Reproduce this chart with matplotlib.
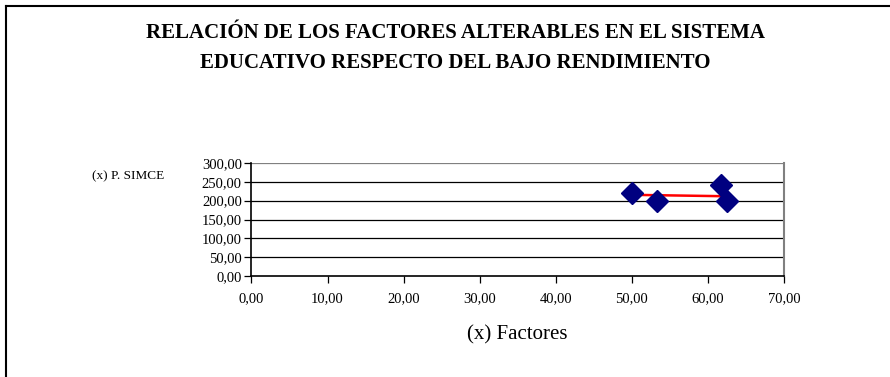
import matplotlib
matplotlib.use("Agg")
import matplotlib.pyplot as plt
from matplotlib.lines import Line2D

# Factor scores (x) against SIMCE score (y)
factores = [50.0, 53.3, 61.7, 62.5]
simce = [220.0, 198.0, 241.0, 200.0]

# Linear trend line endpoints
trend_x = [50.0, 62.5]
trend_y = [215.5, 211.7]

x_ticks = [0, 10, 20, 30, 40, 50, 60, 70]
y_ticks = [0, 50, 100, 150, 200, 250, 300]

title = "RELACIÓN DE LOS FACTORES ALTERABLES EN EL SISTEMA\nEDUCATIVO RESPECTO DEL BAJO RENDIMIENTO"

plt.rcParams["font.family"] = ["Liberation Serif", "DejaVu Serif"]

W, H = 890, 377
fig = plt.figure(figsize=(W / 100, H / 100), dpi=100)

# Chart frame (left and top edges)
fig.add_artist(Line2D([6 / W, 6 / W], [0, 1 - 6 / H], color="black", lw=1.5,
                      transform=fig.transFigure))
fig.add_artist(Line2D([6 / W, 1], [1 - 6 / H, 1 - 6 / H], color="black", lw=1.5,
                      transform=fig.transFigure))

ax = fig.add_axes([251.5 / W, 1 - 276 / H, (784 - 251.5) / W, (276 - 163) / H])

for yv in y_ticks[1:]:
    ax.axhline(yv, color="black" if yv < 300 else "#808080", lw=0.9, zorder=1)

ax.plot(trend_x, trend_y, color="#ff0000", lw=1.8, zorder=2)
ax.plot(factores, simce, linestyle="none", marker="D", markersize=11,
        color="#000080", zorder=3)

ax.set_xlim(0, 70)
ax.set_ylim(0, 300)
ax.set_xticks(x_ticks)
ax.set_yticks(y_ticks)
ax.set_xticklabels([f"{v:.2f}".replace(".", ",") for v in x_ticks], fontsize=10.5)
ax.set_yticklabels([f"{v:.2f}".replace(".", ",") for v in y_ticks], fontsize=10.5)
ax.tick_params(axis="x", direction="out", length=5, width=0.9, pad=7)
ax.tick_params(axis="y", direction="out", length=5, width=0.9, pad=2)

ax.spines["left"].set_color("black")
ax.spines["left"].set_linewidth(1.2)
ax.spines["bottom"].set_color("black")
ax.spines["bottom"].set_linewidth(1.2)
ax.spines["right"].set_color("#808080")
ax.spines["right"].set_linewidth(1.5)
ax.spines["top"].set_visible(False)

ax.set_xlabel("(x) Factores", fontsize=15, labelpad=14)

fig.text(92 / W, 1 - 176 / H, "(x) P. SIMCE", fontsize=9.5, ha="left", va="center")
fig.text(455 / W, 1 - 48 / H, title, fontsize=15, fontweight="bold",
         ha="center", va="center", linespacing=1.7)

fig.savefig("out.png", dpi=100)
